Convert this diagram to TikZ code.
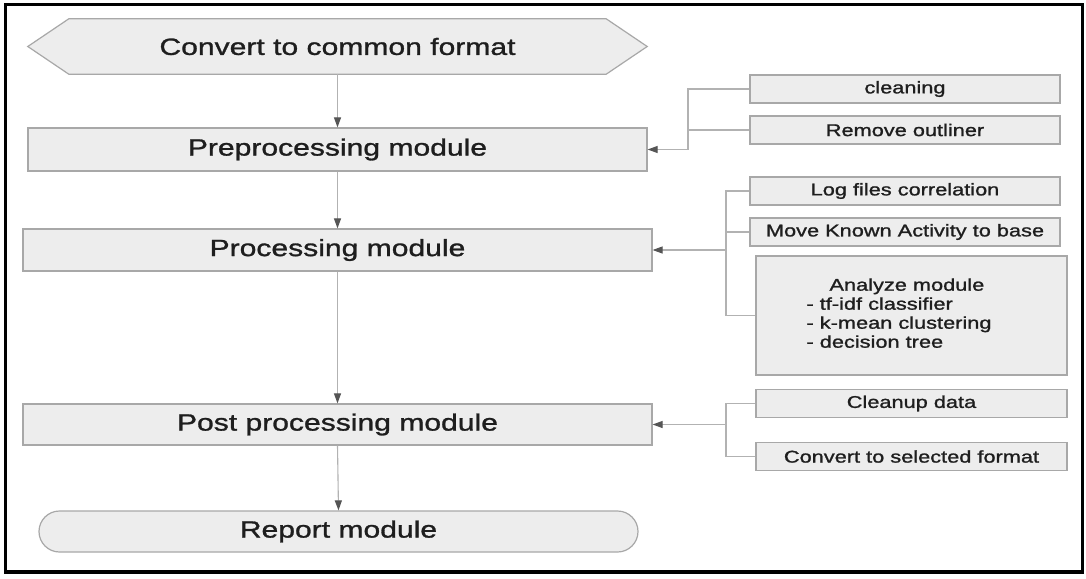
\documentclass[tikz,border=0pt]{standalone}
\usepackage{fontspec}
\setmainfont[FakeStretch=1.28,FakeBold=1.2]{Liberation Sans}
\usetikzlibrary{arrows.meta,shapes.misc,calc,backgrounds}
\definecolor{boxfill}{HTML}{EDEDED}
\definecolor{boxline}{HTML}{A8A8A8}
\definecolor{conline}{HTML}{B2B2B2}
\definecolor{tipcol}{HTML}{555555}
\definecolor{txt}{HTML}{1E1E1E}
\tikzset{
  mainbox/.style={draw=boxline, fill=boxfill, line width=1.2pt, inner sep=0pt,
    text=txt, font=\fontsize{23.5}{28}\selectfont},
  subbox/.style={draw=boxline, fill=boxfill, line width=1.2pt, inner sep=0pt,
    minimum width=310pt, minimum height=28pt, text=txt, font=\fontsize{17}{18.5}\selectfont},
  conn/.style={draw=conline, line width=1.1pt},
  arr/.style={conn, -{Triangle[length=10pt,width=7pt,color=tipcol,fill=tipcol]}},
}
\begin{document}
\begin{tikzpicture}[x=1pt,y=-1pt]
\useasboundingbox (0,0) rectangle (1086,578);
\draw[black, line width=3.5pt] (5.5,4.5) rectangle (1082.5,572);

% left column
\node[minimum width=619pt, minimum height=55pt, inner sep=0pt, text=txt,
  font=\fontsize{23.5}{28}\selectfont] (conv) at (337.5,46.5) {Convert to common format};
\begin{scope}[on background layer]
\fill[white] (0,0) rectangle (1086,578);
\draw[draw=boxline, fill=boxfill, line width=1.2pt]
  (conv.west) -- ($(conv.north west)+(41,0)$) -- ($(conv.north east)+(-41,0)$)
  -- (conv.east) -- ($(conv.south east)+(-41,0)$) -- ($(conv.south west)+(41,0)$) -- cycle;
\end{scope}
\node[mainbox, minimum width=619pt, minimum height=43pt] (pre) at (337.5,149.5) {Preprocessing module};
\node[mainbox, minimum width=629pt, minimum height=42pt] (proc) at (337.5,250) {Processing module};
\node[mainbox, minimum width=629pt, minimum height=41pt] (post) at (337.5,424.5) {Post processing module};
\node[mainbox, rounded rectangle, minimum width=599pt, minimum height=41pt] (rep) at (338.5,531.5) {Report module};

% right column
\node[subbox] (clean) at (905,89) {cleaning};
\node[subbox] (outl) at (905,130) {Remove outliner};
\node[subbox] (log) at (905,191) {Log files correlation};
\node[subbox] (move) at (905,232) {Move Known Activity to base};
\node[subbox, minimum width=311pt, minimum height=119pt] (ana) at (911.5,315.5)
  {\begin{tabular}{@{}l@{}}\hspace*{23pt}Analyze module\\[0.5pt]- tf-idf classifier\\[0.5pt]- k-mean clustering\\[0.5pt]- decision tree\end{tabular}\hspace*{25pt}};
\node[subbox, minimum width=311pt] (cup) at (911.5,403.5) {Cleanup data};
\node[subbox, minimum width=311pt] (csel) at (911.5,456.5) {Convert to selected format};

% main flow
\draw[arr] (conv.south) -- (pre.north);
\draw[arr] (pre.south) -- (proc.north);
\draw[arr] (proc.south) -- (post.north);
\draw[arr] (post.south) -- (rep.north);

% brackets
\coordinate (b1) at (688,149.5);
\draw[conn] (clean.west) -| (b1);
\draw[conn] (outl.west) -- (outl.west -| b1);
\draw[arr] (b1) -- (pre.east);

\coordinate (b2) at (726,250);
\draw[conn] (log.west) -| (ana.west -| b2) -- (ana.west);
\draw[conn] (move.west) -- (move.west -| b2);
\draw[arr] (b2) -- (proc.east);

\coordinate (b3) at (726,424.5);
\draw[conn] (cup.west) -| (csel.west -| b3) -- (csel.west);
\draw[arr] (b3) -- (post.east);
\end{tikzpicture}
\end{document}
